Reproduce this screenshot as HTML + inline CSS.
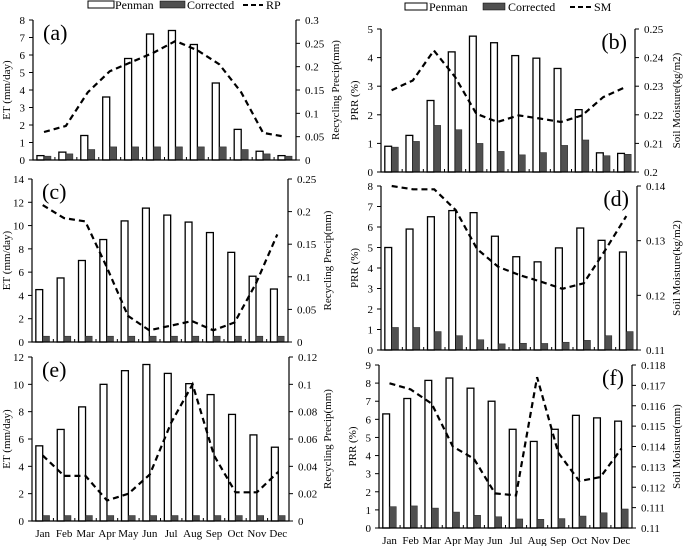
<!DOCTYPE html>
<html><head><meta charset="utf-8">
<style>
html,body{margin:0;padding:0;background:#fff;}
svg{display:block;font-family:"Liberation Serif",serif;}
</style></head>
<body>
<svg id="chart" width="685" height="546" viewBox="0 0 685 546" xmlns="http://www.w3.org/2000/svg">
  <g id="legend-a" font-size="12">
    <rect x="88" y="1" width="26" height="7" fill="#fff" stroke="#000" stroke-width="1"/>
    <text x="115" y="9">Penman</text>
    <rect x="160" y="1" width="25" height="7" fill="#505050" stroke="#000" stroke-width="0.5"/>
    <text x="187" y="9">Corrected</text>
    <line x1="243" y1="5" x2="263" y2="5" stroke="#000" stroke-width="2" stroke-dasharray="5,3"/>
    <text x="266" y="9">RP</text>
  </g>
  <g id="legend-b" font-size="12">
    <rect x="405" y="3" width="22" height="7" fill="#fff" stroke="#000" stroke-width="1"/>
    <text x="429" y="11">Penman</text>
    <rect x="483" y="3" width="22" height="7" fill="#505050" stroke="#000" stroke-width="0.5"/>
    <text x="508" y="11">Corrected</text>
    <line x1="570" y1="7" x2="591" y2="7" stroke="#000" stroke-width="2" stroke-dasharray="5,3"/>
    <text x="594" y="11">SM</text>
  </g>
</svg>
<script>
const months = ["Jan","Feb","Mar","Apr","May","Jun","Jul","Aug","Sep","Oct","Nov","Dec"];

const penmanA = [0.25,0.45,1.4,3.6,5.8,7.2,7.4,6.6,4.4,1.75,0.5,0.25];
const correctedA = [0.22,0.35,0.6,0.75,0.75,0.75,0.75,0.75,0.75,0.6,0.35,0.22];
const rpA = [0.06,0.073,0.145,0.19,0.21,0.23,0.255,0.235,0.205,0.145,0.058,0.05];

const penmanB = [0.9,1.28,2.5,4.2,4.75,4.52,4.07,3.98,3.62,2.18,0.67,0.65];
const correctedB = [0.87,1.07,1.63,1.48,1.0,0.72,0.6,0.68,0.93,1.12,0.57,0.62];
const smB = [0.2286,0.232,0.2425,0.2332,0.2204,0.2175,0.2198,0.2187,0.2175,0.2198,0.2262,0.2295];

const penmanC = [4.5,5.5,7.0,8.8,10.4,11.5,10.9,10.3,9.4,7.7,5.65,4.55];
const correctedC = [0.5,0.5,0.5,0.5,0.5,0.5,0.5,0.5,0.5,0.5,0.5,0.5];
const rpC = [0.21,0.19,0.185,0.115,0.04,0.018,0.025,0.032,0.018,0.03,0.09,0.165];

const penmanD = [5.0,5.9,6.5,6.8,6.7,5.55,4.55,4.3,4.98,5.95,5.35,4.78];
const correctedD = [1.1,1.1,0.9,0.7,0.5,0.3,0.33,0.32,0.38,0.47,0.7,0.9];
const smD = [0.14,0.1394,0.1394,0.1356,0.1285,0.1252,0.1237,0.1225,0.1212,0.1222,0.1282,0.1345];

const penmanE = [5.5,6.7,8.35,10.0,11.0,11.45,10.8,10.05,9.25,7.8,6.3,5.4];
const correctedE = [0.4,0.4,0.4,0.4,0.4,0.4,0.4,0.4,0.4,0.4,0.4,0.4];
const rpE = [0.048,0.033,0.033,0.015,0.02,0.034,0.072,0.1,0.048,0.021,0.021,0.036];

const penmanF = [6.3,7.15,8.15,8.28,7.72,7.0,5.45,4.78,5.45,6.22,6.08,5.9];
const correctedF = [1.18,1.22,1.1,0.88,0.7,0.62,0.5,0.48,0.52,0.66,0.84,1.05];
const smF = [0.1171,0.1168,0.1161,0.114,0.1134,0.1117,0.1116,0.1174,0.1137,0.1123,0.1125,0.1139];

const ticksA = ["0","1","2","3","4","5","6","7","8"];
const rticksA = ["0","0.05","0.1","0.15","0.2","0.25","0.3"];
const ticksB = ["0","1","2","3","4","5"];
const rticksB = ["0.2","0.21","0.22","0.23","0.24","0.25"];
const ticksC = ["0","2","4","6","8","10","12","14"];
const rticksC = ["0","0.05","0.1","0.15","0.2","0.25"];
const ticksD = ["0","1","2","3","4","5","6","7","8"];
const rticksD = ["0.11","0.12","0.13","0.14"];
const ticksE = ["0","2","4","6","8","10","12"];
const rticksE = ["0","0.02","0.04","0.06","0.08","0.1","0.12"];
const ticksF = ["0","1","2","3","4","5","6","7","8","9"];
const rticksF = ["0.11","0.111","0.112","0.113","0.114","0.115","0.116","0.117","0.118"];

const NS = "http://www.w3.org/2000/svg";
const svg = document.getElementById("chart");
function mk(tag, attrs, parent){
  const e = document.createElementNS(NS, tag);
  for (const k in attrs) e.setAttribute(k, attrs[k]);
  (parent||svg).appendChild(e);
  return e;
}

function panel(cfg){
  const g = mk("g", {});
  
  
  const {x0,x1,y0,y1} = cfg;
  const lmin = Number(cfg.lt[0]), lmax = Number(cfg.lt[cfg.lt.length-1]);
  const rmin = Number(cfg.rt[0]), rmax = Number(cfg.rt[cfg.rt.length-1]);
  const yL = v => y1 - (v - lmin)/(lmax - lmin)*(y1 - y0);
  const yR = v => y1 - (v - rmin)/(rmax - rmin)*(y1 - y0);
  const cw = (x1 - x0)/months.length;
  const xC = i => x0 + cw*(i+0.5);
  const bw = cw*0.32;
  cfg.pen.forEach((v,i)=>{
    const r = mk("rect",{x:xC(i)-bw, y:yL(v), width:bw, height:y1-yL(v), fill:"#fff", stroke:"#000", "stroke-width":1.3}, g);
    
    
  });
  cfg.cor.forEach((v,i)=>{
    const r = mk("rect",{x:xC(i), y:yL(v), width:bw, height:y1-yL(v), fill:"#505050", stroke:"#222", "stroke-width":0.5}, g);
    
    
  });
  const pts = cfg.line.map((v,i)=>xC(i).toFixed(1)+","+yR(v).toFixed(1)).join(" ");
  const pl = mk("polyline",{points:pts, fill:"none", stroke:"#000", "stroke-width":2.2, "stroke-dasharray":"6,4"}, g);
  
  
  const ax = mk("path",{d:`M${x0},${y0}V${y1}H${x1}V${y0}`, fill:"none", stroke:"#000", "stroke-width":1.2}, g);
  
  
  for (let i=1;i<months.length;i++){
    const t = mk("line",{x1:x0+cw*i, x2:x0+cw*i, y1:y1, y2:y1-3, stroke:"#000", "stroke-width":1}, g);
    
    
  }
  cfg.lt.forEach(s=>{
    const y = yL(Number(s));
    mk("line",{x1:x0-4,x2:x0,y1:y,y2:y,stroke:"#000","stroke-width":1},g);
    const t = mk("text",{x:x0-8,y:y+4,"font-size":11,"text-anchor":"end"},g);
    t.textContent = s;
    
    
  });
  cfg.rt.forEach(s=>{
    const y = yR(Number(s));
    mk("line",{x1:x1,x2:x1+4,y1:y,y2:y,stroke:"#000","stroke-width":1},g);
    const t = mk("text",{x:x1+9,y:y+4,"font-size":11},g);
    t.textContent = s;
    
    
  });
  const ly = (y0+y1)/2;
  const lt = mk("text",{x:cfg.ltx, y:ly, "font-size":11, "text-anchor":"middle", transform:`rotate(-90 ${cfg.ltx} ${ly})`}, g);
  lt.textContent = cfg.ltitle;
  
  
  const rt = mk("text",{x:cfg.rtx, y:ly, "font-size":11, "text-anchor":"middle", transform:`rotate(-90 ${cfg.rtx} ${ly})`}, g);
  rt.textContent = cfg.rtitle;
  
  
  const pt = mk("text",{x:cfg.tagRight ? x1-8 : x0+10, y:y0+20, "font-size":22, "text-anchor":cfg.tagRight?"end":"start"}, g);
  pt.textContent = "(" + cfg.id + ")";
  
  
  if (cfg.months){
    months.forEach((m,i)=>{
      const t = mk("text",{x:xC(i), y:y1+16, "font-size":11, "text-anchor":"middle"}, g);
      t.textContent = m;
      
      
    });
  }
}

panel({id:"a",x0:33,x1:296,y0:20,y1:160,lt:ticksA,rt:rticksA,pen:penmanA,cor:correctedA,line:rpA,lineName:"rp",ltitle:"ET (mm/day)",rtitle:"Recycling Precip(mm)",ltx:10,rtx:339});
panel({id:"b",x0:381,x1:635,y0:29,y1:172,lt:ticksB,rt:rticksB,pen:penmanB,cor:correctedB,line:smB,lineName:"sm",ltitle:"PRR (%)",rtitle:"Soil Moisture(kg/m2)",ltx:358,rtx:680,tagRight:true});
panel({id:"c",x0:32,x1:288,y0:179,y1:342,lt:ticksC,rt:rticksC,pen:penmanC,cor:correctedC,line:rpC,lineName:"rp",ltitle:"ET (mm/day)",rtitle:"Recycling Precip(mm)",ltx:10,rtx:331});
panel({id:"d",x0:381,x1:637,y0:186,y1:350,lt:ticksD,rt:rticksD,pen:penmanD,cor:correctedD,line:smD,lineName:"sm",ltitle:"PRR (%)",rtitle:"Soil Moisture(kg/m2)",ltx:358,rtx:680,tagRight:true});
panel({id:"e",x0:32,x1:289,y0:357,y1:521,lt:ticksE,rt:rticksE,pen:penmanE,cor:correctedE,line:rpE,lineName:"rp",ltitle:"ET (mm/day)",rtitle:"Recycling Precip(mm)",ltx:10,rtx:331,months:true});
panel({id:"f",x0:379,x1:632,y0:365,y1:528,lt:ticksF,rt:rticksF,pen:penmanF,cor:correctedF,line:smF,lineName:"sm",ltitle:"PRR (%)",rtitle:"Soil Moisture(mm)",ltx:356,rtx:680,tagRight:true,months:true});
</script>
</body></html>
